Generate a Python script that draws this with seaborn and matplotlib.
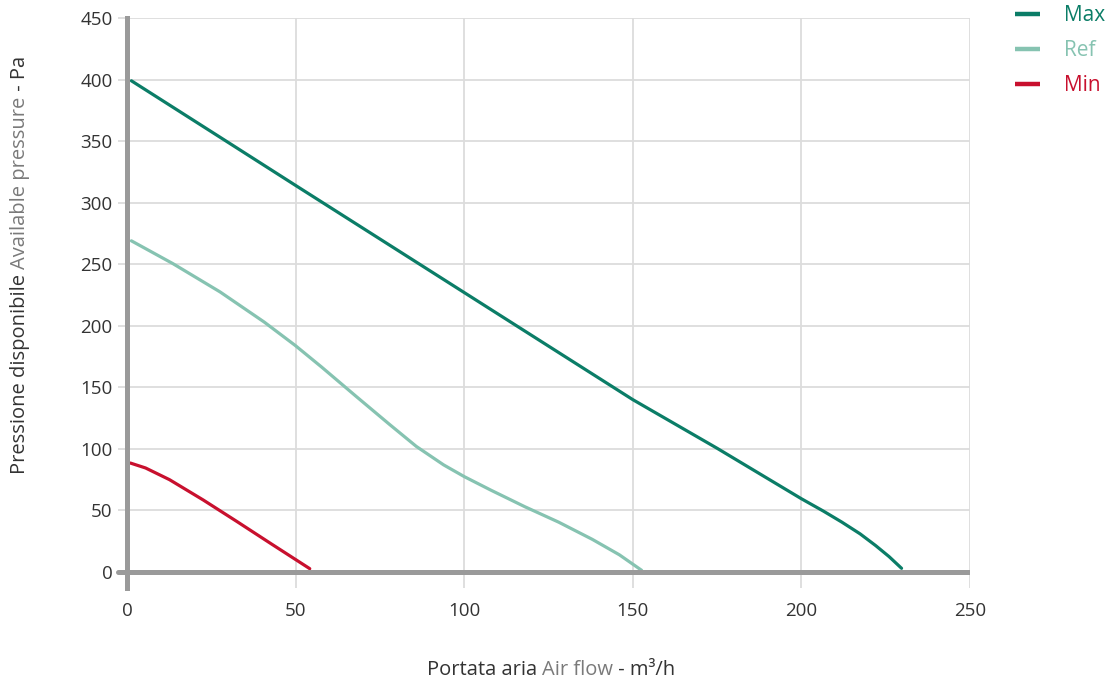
import matplotlib
matplotlib.use("Agg")
import matplotlib.pyplot as plt
import seaborn as sns
import pandas as pd

# ---- data ----
max_x = [1.3, 29.4, 50, 100, 150, 175, 200, 206.5, 212, 217.4, 222, 226, 229.7]
max_y = [399, 350, 314, 227, 140, 100.5, 59.5, 49.5, 40.5, 31, 21.5, 12.5, 3]

ref_x = [1.3, 13.6, 27.6, 40.7, 49.9, 57.7, 67.8, 77.8, 85.8, 93.9, 100, 107.9, 118, 128, 138, 146, 152.6]
ref_y = [269, 250.5, 227.5, 203, 184, 166.5, 143, 120, 102, 87, 77.5, 66.5, 53, 40.5, 26.5, 14, 1.4]

min_x = [1.0, 5.5, 12.6, 22.6, 32.6, 42.7, 54.2]
min_y = [88.5, 84.5, 75, 58.5, 41, 23, 2.7]

series_names = ["Max", "Ref", "Min"]
colors = {"Max": "#0b7d67", "Ref": "#86c3b1", "Min": "#c8102e"}

x_ticks = [0, 50, 100, 150, 200, 250]
y_ticks = [0, 50, 100, 150, 200, 250, 300, 350, 400, 450]

xlabel_parts = [("Portata aria ", "#333333"), ("Air flow", "#7a7a7a"), (" - m³/h", "#333333")]
ylabel_parts = [("Pressione disponibile ", "#333333"), ("Available pressure", "#7a7a7a"), (" - Pa", "#333333")]

df = pd.concat([
    pd.DataFrame({"x": max_x, "y": max_y, "s": "Max"}),
    pd.DataFrame({"x": ref_x, "y": ref_y, "s": "Ref"}),
    pd.DataFrame({"x": min_x, "y": min_y, "s": "Min"}),
], ignore_index=True)

sns.set_theme(style="white")
plt.rcParams["font.family"] = ["Open Sans", "DejaVu Sans"]

W, H = 1113, 684
fig = plt.figure(figsize=(W / 100, H / 100), dpi=100)
left, right, top, bottom = 127, 970, 18, 588
ax = fig.add_axes([left / W, 1 - bottom / H, (right - left) / W, (bottom - top) / H])

sns.lineplot(data=df, x="x", y="y", hue="s", hue_order=series_names, palette=colors,
             sort=False, estimator=None, linewidth=2.3, ax=ax, legend=True, zorder=3)
for ln in ax.get_lines():
    ln.set_solid_joinstyle("round")
    ln.set_solid_capstyle("round")

ax.set_xlim(0, 250)
ax.set_ylim(-13, 450)
ax.set_xticks(x_ticks)
ax.set_yticks(y_ticks)
ax.grid(True, color="#dcdcdc", linewidth=1.3, zorder=0)
ax.set_axisbelow(True)
for s in ["top", "right", "bottom"]:
    ax.spines[s].set_visible(False)
ax.spines["left"].set_color("#9a9a9a")
ax.spines["left"].set_linewidth(3.6)
ax.spines["left"].set_zorder(4)
# zero baseline (thick grey), extended slightly left like a tick
ax.axhline(0, color="#9a9a9a", linewidth=3.6, zorder=4)
ax.plot([-2.7, 0], [0, 0], color="#9a9a9a", linewidth=3.6, clip_on=False, zorder=4)

ax.tick_params(axis="x", length=0, pad=10, labelsize=13.5, labelcolor="#333333")
ax.tick_params(axis="y", length=6.5, width=1.3, color="#dcdcdc", pad=4, labelsize=13.5,
               labelcolor="#333333", left=True)
ax.set_xlabel("")
ax.set_ylabel("")

# legend
leg = ax.legend(loc="upper left", bbox_to_anchor=(1015 / W, 1 - 5 / H), bbox_transform=fig.transFigure,
                frameon=False, fontsize=15, handlelength=1.2, handletextpad=1.15,
                labelspacing=0.68, borderaxespad=0, borderpad=0, labelcolor="linecolor")
for h in leg.get_lines():
    h.set_linewidth(3.2)
    h.set_solid_capstyle("butt")

# multi-colour axis labels
fig.canvas.draw()
renderer = fig.canvas.get_renderer()


def colored_label(parts, cx, cy, rotation=0):
    texts = []
    sizes = []
    for s, c in parts:
        t = fig.text(0, 0, s, color=c, fontsize=14.5, rotation=rotation,
                     ha="left", va="center", rotation_mode="anchor")
        bb = t.get_window_extent(renderer=renderer)
        sizes.append(bb.width if rotation == 0 else bb.height)
        texts.append(t)
    total = sum(sizes)
    pos = (cx - total / 2) if rotation == 0 else (cy + total / 2)
    for t, sz in zip(texts, sizes):
        if rotation == 0:
            t.set_position((pos / W, 1 - cy / H))
            pos += sz
        else:
            t.set_position((cx / W, 1 - pos / H))
            pos -= sz


colored_label(xlabel_parts, 551, 670)
colored_label(ylabel_parts, 20, 265, rotation=90)

fig.savefig("out.png", dpi=100)
